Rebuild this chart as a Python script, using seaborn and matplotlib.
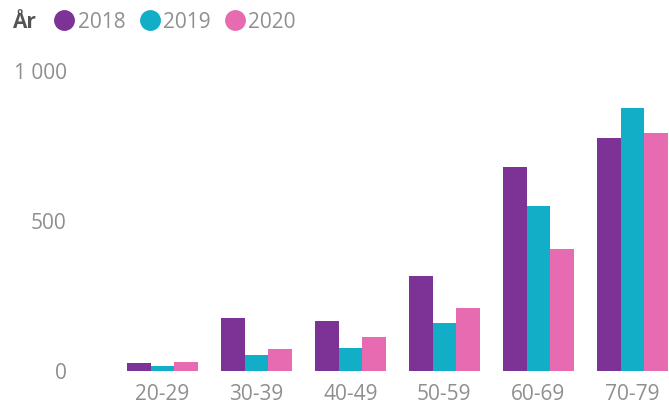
import pandas as pd
import seaborn as sns
from matplotlib import pyplot as plt
from matplotlib.lines import Line2D

age_groups = ["20-29", "30-39", "40-49", "50-59", "60-69", "70-79"]
years = ["2018", "2019", "2020"]
values_2018 = [28, 177, 166, 318, 678, 777]
values_2019 = [17, 53, 78, 160, 549, 875]
values_2020 = [30, 72, 113, 210, 407, 793]
y_ticks = [0, 500, 1000]
y_tick_labels = ["0", "500", "1 000"]
colors = ["#7D3296", "#12AEC8", "#E66BB0"]

df = pd.DataFrame({
    "Ålder": age_groups * 3,
    "År": [y for y in years for _ in age_groups],
    "Antal": values_2018 + values_2019 + values_2020,
})

sns.set_style("white")
plt.rcParams["font.family"] = ["Open Sans", "DejaVu Sans"]

W, H = 669, 407
fig = plt.figure(figsize=(W / 100, H / 100), dpi=100)
# axes box in pixels: left 75, right 669, top 60, bottom 371
ax = fig.add_axes([75 / W, (H - 371) / H, (W - 75) / W, (371 - 60) / H])

sns.barplot(
    data=df, x="Ålder", y="Antal", hue="År",
    palette=colors, saturation=1, width=0.755, linewidth=0,
    legend=False, ax=ax,
)

ax.set_xlim(-0.93, 5.39)
ax.set_ylim(0, 1036)
ax.set_yticks(y_ticks)
ax.set_yticklabels(y_tick_labels)
ax.set_xlabel("")
ax.set_ylabel("")
ax.tick_params(axis="both", length=0, labelsize=15, labelcolor="#8f8f8f")
ax.tick_params(axis="y", pad=6)
ax.tick_params(axis="x", pad=9)
sns.despine(ax=ax, left=True, bottom=True)

# legend with title on the left
fig.text(12 / W, 1 - 22 / H, "År", fontsize=15, fontweight="bold",
         color="#555555", va="center", ha="left")
handles = [
    Line2D([], [], marker="o", linestyle="none", markersize=14,
           markerfacecolor=c, markeredgecolor=c)
    for c in colors
]
fig.legend(
    handles, years, ncol=3, loc="center left",
    bbox_to_anchor=(54 / W, 1 - 22 / H), frameon=False,
    fontsize=15, labelcolor="#8f8f8f", handlelength=1.0,
    handletextpad=0.15, columnspacing=0.65, borderpad=0, borderaxespad=0,
)

fig.savefig("out.png", dpi=100)
